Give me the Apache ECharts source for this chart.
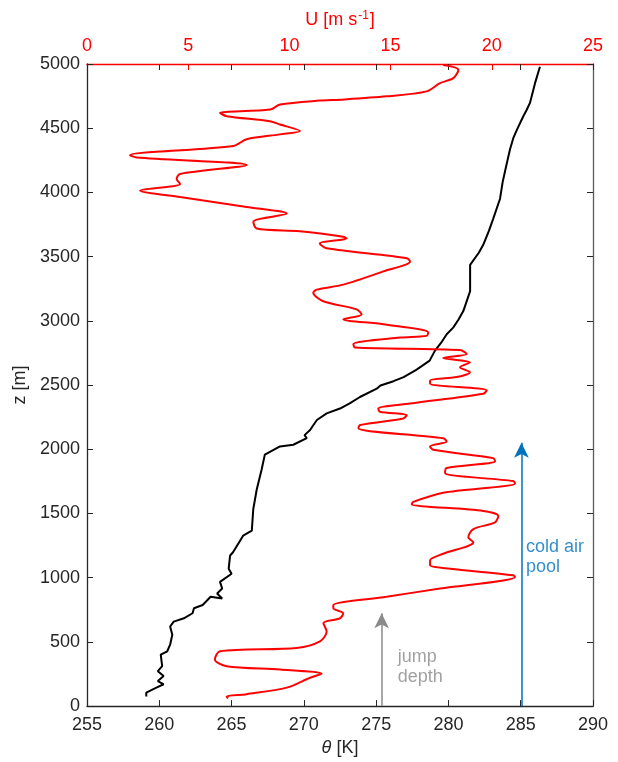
<!DOCTYPE html>
<html>
<head>
<meta charset="utf-8">
<script src="https://cdn.jsdelivr.net/npm/echarts@6/dist/echarts.min.js"></script>
<style>
html,body{margin:0;padding:0;background:#fff;}
#chart{width:618px;height:762px;}
</style>
</head>
<body>
<div id="chart"></div>
<script>
// Potential temperature profile (theta [K]) vs height z [m]
const thetaValues = [259.1, 259.1, 259.8, 260.3, 259.9, 260.3, 259.9, 260.2, 260.1, 260.55, 260.75, 260.9, 260.75, 261.0, 261.7, 262.3, 262.4, 263.0, 263.55, 264.35, 264.0, 264.35, 264.2, 265.0, 264.8, 264.9, 265.1, 265.8, 266.4, 266.5, 266.74, 267.08, 267.3, 268.35, 269.27, 270.2, 270.05, 270.43, 270.9, 271.58, 272.5, 273.2, 273.88, 275.04, 275.3, 276.2, 276.9, 277.8, 278.7, 279.07, 279.5, 279.88, 280.33, 280.7, 281.03, 281.5, 281.5, 282.1, 282.4, 282.8, 283.1, 283.57, 283.75, 284.0, 284.26, 284.5, 284.75, 285.18, 285.4, 285.64, 285.99, 286.33];
const thetaHeights = [75, 105, 144, 170, 195, 234, 272, 311, 401, 427, 478, 556, 620, 658, 684, 723, 762, 787, 851, 838, 877, 916, 967, 1031, 1070, 1173, 1198, 1327, 1366, 1533, 1687, 1842, 1958, 2022, 2035, 2086, 2110, 2150, 2228, 2279, 2317, 2360, 2407, 2472, 2497, 2530, 2562, 2620, 2690, 2768, 2830, 2896, 2947, 3010, 3076, 3231, 3436, 3530, 3590, 3700, 3796, 3951, 4080, 4208, 4336, 4427, 4491, 4593, 4640, 4697, 4851, 4979];

// Wind speed profile (U [m s-1]) vs height z [m]
const windValues = [6.97, 6.9, 7.89, 9.87, 11.02, 11.59, 9.54, 6.9, 6.32, 6.57, 10.36, 11.51, 11.84, 11.68, 12.5, 12.66, 12.17, 12.17, 14.8, 17.44, 21.15, 21.06, 17.94, 16.95, 16.95, 17.6, 19.09, 18.84, 19.09, 20.16, 20.32, 19.58, 16.04, 16.12, 17.6, 21.15, 21.06, 17.69, 17.77, 20.16, 20.07, 17.1, 16.95, 17.77, 17.6, 13.41, 13.49, 15.63, 15.8, 14.47, 14.39, 15.96, 19.58, 19.75, 16.95, 16.95, 18.27, 18.92, 18.43, 18.92, 17.6, 18.76, 18.43, 13.24, 13.16, 15.46, 16.78, 16.86, 14.64, 12.66, 13.57, 13.32, 11.68, 11.18, 11.35, 12.66, 14.64, 15.96, 15.8, 11.84, 11.5, 12.83, 12.66, 10.52, 8.38, 8.22, 9.87, 7.89, 4.6, 2.62, 4.6, 4.43, 4.6, 7.89, 2.46, 2.12, 7.23, 7.89, 9.54, 10.52, 9.54, 9.04, 6.9, 6.57, 9.04, 9.54, 11.5, 12.5, 14.8, 16.78, 17.44, 18.1, 18.35, 17.6];
const windHeights = [60, 75, 93, 144, 221, 252, 285, 311, 363, 427, 453, 504, 581, 646, 684, 723, 762, 787, 851, 916, 1005, 1019, 1070, 1096, 1134, 1186, 1276, 1314, 1379, 1430, 1481, 1520, 1572, 1590, 1661, 1734, 1752, 1815, 1854, 1906, 1931, 1996, 2022, 2060, 2086, 2163, 2189, 2240, 2266, 2292, 2317, 2356, 2433, 2459, 2510, 2536, 2562, 2600, 2639, 2677, 2711, 2742, 2773, 2793, 2819, 2870, 2883, 2909, 2973, 3012, 3050, 3089, 3153, 3218, 3243, 3282, 3385, 3462, 3488, 3565, 3603, 3642, 3655, 3698, 3719, 3771, 3835, 3887, 3964, 4015, 4066, 4105, 4144, 4213, 4272, 4290, 4362, 4414, 4452, 4478, 4529, 4555, 4594, 4619, 4645, 4684, 4715, 4722, 4748, 4787, 4851, 4890, 4954, 4992];

// Axis ranges / ticks
const thetaTicks = [255, 260, 265, 270, 275, 280, 285, 290];
const windTicks = [0, 5, 10, 15, 20, 25];
const zTicks = [0, 500, 1000, 1500, 2000, 2500, 3000, 3500, 4000, 4500, 5000];

// Annotations
const jumpArrow = {theta: 275.38, zFrom: 0, zTo: 723, text: 'jump\ndepth', textTheta: 276.5, textZ: 305};
const poolArrow = {theta: 285.05, zFrom: 0, zTo: 2050, text: 'cold air\npool', textTheta: 285.37, textZ: 1160};

const FONT = 'Liberation Sans, Arial, Helvetica, sans-serif';
const TXT = '#262626';

const thetaData = thetaValues.map((v, i) => [v, thetaHeights[i]]);
const windData = windValues.map((v, i) => [v, windHeights[i]]);

const chart = echarts.init(document.getElementById('chart'), null, {renderer: 'canvas'});
chart.setOption({
  animation: false,
  backgroundColor: '#ffffff',
  textStyle: {fontFamily: FONT},
  grid: {left: 87, right: 25, top: 64, bottom: 50, containLabel: false},
  xAxis: [
    {
      type: 'value', position: 'bottom',
      min: thetaTicks[0], max: thetaTicks[thetaTicks.length - 1], interval: 5,
      axisLine: {show: true, onZero: false, lineStyle: {color: TXT, width: 1.3}},
      axisTick: {show: true, inside: true, length: 6, lineStyle: {color: TXT, width: 1}},
      splitLine: {show: false},
      axisLabel: {color: TXT, fontSize: 18, fontFamily: FONT, margin: 10},
      name: '{i|θ} [K]', nameLocation: 'middle', nameGap: 26,
      nameTextStyle: {color: TXT, fontSize: 18, fontFamily: FONT,
        rich: {i: {fontStyle: 'italic', fontSize: 18, color: TXT, fontFamily: FONT}}}
    },
    {
      type: 'value', position: 'top',
      min: windTicks[0], max: windTicks[windTicks.length - 1], interval: 5,
      axisLine: {show: true, onZero: false, lineStyle: {color: '#ff0000', width: 1.3}},
      axisTick: {show: true, inside: true, length: 6, lineStyle: {color: '#ff0000', width: 1}},
      splitLine: {show: false},
      axisLabel: {color: '#ff0000', fontSize: 18, fontFamily: FONT, margin: 9},
      name: '{a|U [m s}{s|-1}{a|]}', nameLocation: 'middle', nameGap: 34,
      nameTextStyle: {color: '#ff0000', fontSize: 18, fontFamily: FONT,
        rich: {
          a: {color: '#ff0000', fontSize: 18, fontFamily: FONT},
          s: {color: '#ff0000', fontSize: 12, fontFamily: FONT, verticalAlign: 'top', padding: [0, 1, 8, 1]}
        }}
    },
    {
      type: 'value', position: 'top',
      min: thetaTicks[0], max: thetaTicks[thetaTicks.length - 1], interval: 5,
      axisLine: {show: false, onZero: false},
      axisTick: {show: true, inside: true, length: 6, lineStyle: {color: TXT, width: 1}},
      splitLine: {show: false},
      axisLabel: {show: false}
    }
  ],
  yAxis: [
    {
      type: 'value', position: 'left',
      min: zTicks[0], max: zTicks[zTicks.length - 1], interval: 500,
      axisLine: {show: true, onZero: false, lineStyle: {color: TXT, width: 1.3}},
      axisTick: {show: true, inside: true, length: 6, lineStyle: {color: TXT, width: 1}},
      splitLine: {show: false},
      axisLabel: {color: TXT, fontSize: 18, fontFamily: FONT, margin: 7, formatter: v => String(v)},
      name: 'z [m]', nameLocation: 'middle', nameGap: 51, nameRotate: 90,
      nameTextStyle: {color: TXT, fontSize: 18, fontFamily: FONT}
    },
    {
      type: 'value', position: 'right',
      min: zTicks[0], max: zTicks[zTicks.length - 1], interval: 500,
      axisLine: {show: true, onZero: false, lineStyle: {color: '#5a5a5a', width: 1.3}},
      axisTick: {show: true, inside: true, length: 6, lineStyle: {color: TXT, width: 1}},
      splitLine: {show: false},
      axisLabel: {show: false}
    }
  ],
  series: [
    {
      name: 'theta', type: 'line', xAxisIndex: 0, yAxisIndex: 0,
      data: thetaData, showSymbol: false, symbol: 'none',
      lineStyle: {color: '#000000', width: 2}, z: 3
    },
    {
      name: 'U', type: 'line', xAxisIndex: 1, yAxisIndex: 0,
      data: windData, showSymbol: false, symbol: 'none', smooth: 0.3,
      lineStyle: {color: '#ff0000', width: 2}, z: 4
    },
    {
      name: 'jump', type: 'scatter', xAxisIndex: 0, yAxisIndex: 0,
      symbolSize: 0, silent: true,
      data: [[jumpArrow.textTheta, jumpArrow.textZ]],
      label: {show: true, position: [0, 0], align: 'left', verticalAlign: 'middle',
        formatter: jumpArrow.text, color: '#8a8a8a', fontSize: 18, lineHeight: 20, fontFamily: FONT},
      markLine: {
        silent: true, symbol: ['none', 'arrow'], symbolSize: [11, 15],
        label: {show: false},
        lineStyle: {color: '#8a8a8a', width: 1.5, type: 'solid'},
        data: [[{coord: [jumpArrow.theta, jumpArrow.zFrom]}, {coord: [jumpArrow.theta, jumpArrow.zTo]}]]
      }
    },
    {
      name: 'pool', type: 'scatter', xAxisIndex: 0, yAxisIndex: 0,
      symbolSize: 0, silent: true,
      data: [[poolArrow.textTheta, poolArrow.textZ]],
      label: {show: true, position: [0, 0], align: 'left', verticalAlign: 'middle',
        formatter: poolArrow.text, color: '#0072bd', fontSize: 18, lineHeight: 20, fontFamily: FONT},
      markLine: {
        silent: true, symbol: ['none', 'arrow'], symbolSize: [11, 15],
        label: {show: false},
        lineStyle: {color: '#0072bd', width: 1.5, type: 'solid'},
        data: [[{coord: [poolArrow.theta, poolArrow.zFrom]}, {coord: [poolArrow.theta, poolArrow.zTo]}]]
      }
    }
  ]
});
</script>
</body>
</html>
